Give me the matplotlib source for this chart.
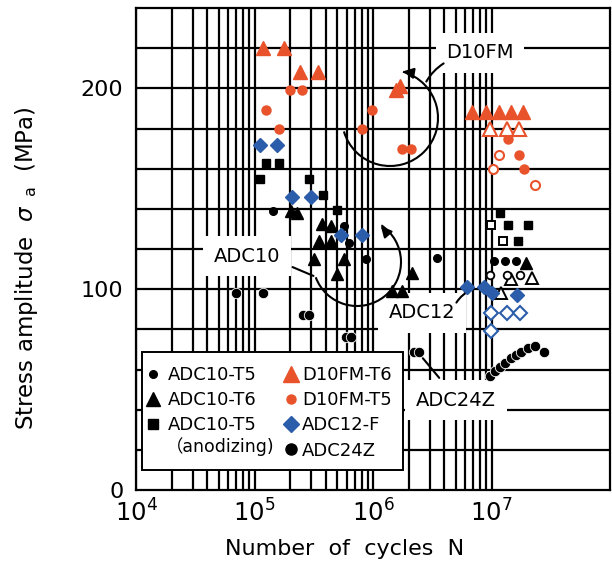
import matplotlib
matplotlib.use('Agg')
import matplotlib.pyplot as plt
from matplotlib.lines import Line2D
from matplotlib.patches import Arc, Rectangle
from matplotlib.ticker import NullLocator

plt.rcParams['font.family'] = ['DejaVu Sans', 'Noto Sans CJK JP']

RED = '#e9532b'
BLUE = '#2b5daa'

# --- data (cycles, stress amplitude MPa) ---
# D10FM-T6
d6_n = [1.17e5, 1.79e5, 2.44e5, 3.45e5, 1.55e6, 1.68e6,
        6.8e6, 8.9e6, 1.15e7, 1.47e7, 1.86e7]
d6_s = [220, 220, 208, 208, 199, 201, 188, 188, 188, 188, 188]
d6_run_n = [9.8e6, 1.34e7, 1.69e7]
d6_run_s = [180, 180, 180]

# D10FM-T5
d5_n = [1.26e5, 1.62e5, 2.0e5, 2.53e5, 8.05e5, 9.9e5, 1.75e6, 2.08e6,
        1.37e7, 1.69e7, 1.89e7]
d5_s = [189, 180, 199, 199, 180, 189, 170, 170, 175, 167, 160]
d5_run_n = [1.16e7, 1.02e7, 2.33e7]
d5_run_s = [167, 160, 152]

# ADC12-F
a12_n = [1.12e5, 1.56e5, 2.09e5, 3.0e5, 5.4e5, 8.1e5, 6.2e6, 8.6e6, 1.0e7, 1.65e7]
a12_s = [172, 172, 146, 146, 127, 127, 101, 101, 98, 97]
a12_run_n = [9.9e6, 1.34e7, 1.75e7, 9.9e6]
a12_run_s = [88, 88, 88, 79]

# ADC10-T5
t5_n = [1.42e5, 5.7e5, 6.3e5, 8.7e5, 3.45e6, 1.04e7, 1.31e7, 1.62e7]
t5_s = [139, 131.5, 123, 115, 115.5, 114, 114, 114]
t5_run_n = [9.8e6, 1.35e7, 1.74e7]
t5_run_s = [107, 107, 107]

# ADC10-T6
t6_n = [2.03e5, 2.3e5, 3.71e5, 4.42e5, 3.47e5, 4.42e5, 3.19e5, 5.7e5,
        5.01e5, 2.14e6, 1.45e6, 1.76e6, 1.97e7]
t6_s = [139, 138, 132.5, 131.5, 124, 124, 115, 115, 107.5, 108, 99, 99, 113]
t6_run_n = [1.47e7, 2.21e7, 1.21e7]
t6_run_s = [105, 105.5, 98]

# ADC10-T5 (anodizing)
an_n = [1.12e5, 1.26e5, 1.62e5, 2.9e5, 3.8e5, 5.0e5, 1.18e7, 1.39e7, 2.02e7, 1.66e7]
an_s = [155, 163, 163, 155, 147, 139.5, 138, 132, 132, 124]
an_run_n = [9.86e6, 1.26e7]
an_run_s = [132, 124]

# ADC24Z
z_n = [7.0e4, 1.18e5, 2.55e5, 2.9e5, 5.9e5, 6.5e5, 2.21e6, 2.44e6,
       9.8e6, 1.08e7, 1.19e7, 1.31e7, 1.45e7, 1.62e7, 1.79e7, 2.05e7, 2.34e7, 2.79e7]
z_s = [98, 98, 87, 87, 76, 76, 68.5, 68.5,
       57, 59.5, 61, 63, 65.5, 67, 68.5, 70.5, 71.5, 68.5]

W, H = 612, 564
AX_L, AX_R, AX_T, AX_B = 136, 610, 8, 490


def px(x, y):
    """pixel position in the picture -> axes fraction"""
    return (x - AX_L) / (AX_R - AX_L), (AX_B - y) / (AX_B - AX_T)


fig = plt.figure(figsize=(W / 100, H / 100), dpi=100)
ax = fig.add_axes([AX_L / W, (H - AX_B) / H, (AX_R - AX_L) / W, (AX_B - AX_T) / H])
ax.set_xscale('log')
ax.set_xlim(1e4, 1e8)
ax.set_ylim(0, 240)

# hand-drawn style grid: minor lines only up to 1e7
for e in range(4, 7):
    for k in range(1, 10):
        ax.axvline(k * 10 ** e, color='k', lw=1.6, zorder=1)
ax.axvline(1e7, color='k', lw=1.6, zorder=1)
for s in range(20, 240, 20):
    ax.axhline(s, color='k', lw=1.6, zorder=1)
for sp in ax.spines.values():
    sp.set_linewidth(1.6)

ax.set_xticks([1e4, 1e5, 1e6, 1e7])
ax.xaxis.set_minor_locator(NullLocator())
ax.set_yticks([0, 100, 200])
ax.tick_params(axis='both', length=0)
ax.tick_params(axis='y', labelsize=16, pad=9)
ax.tick_params(axis='x', labelsize=17.5, pad=7)

fig.text(27 / W, 1 - 268 / H, r'Stress amplitude  $\sigma_{\ \ \rm a}$  (MPa)',
         rotation=90, ha='center', va='center', fontsize=16.5)
fig.text(345 / W, 1 - 549 / H, 'Number  of  cycles  N', ha='center', va='center',
         fontsize=16)

# label boxes that blank out the grid
box = dict(facecolor='white', edgecolor='none', boxstyle='square,pad=0.55')
for txt, (x, y) in [('D10FM', (480, 53)), ('ADC10', (247, 256)),
                    ('ADC12', (422, 313)), ('ADC24Z', (456, 400))]:
    ax.text(*px(x, y), txt, transform=ax.transAxes, ha='center', va='center',
            fontsize=14, bbox=box, zorder=2)

# curved arrows around the groups
arc_kw = dict(transform=ax.transAxes, color='k', lw=1.5, zorder=2.5)
cx, cy = px(390, 118)
ax.add_patch(Arc((cx, cy), 96 / 474, 96 / 482, theta1=-164, theta2=74, **arc_kw))
ax.annotate('', xy=px(400, 71), xytext=px(412, 73), xycoords='axes fraction',
            arrowprops=dict(arrowstyle='-|>', color='k', lw=1.5, mutation_scale=16))
ax.annotate('', xy=px(425, 84), xytext=px(446, 62), xycoords='axes fraction',
            arrowprops=dict(arrowstyle='-', color='k', lw=1.5,
                            connectionstyle='arc3,rad=0.15'))

cx, cy = px(357, 262)
ax.add_patch(Arc((cx, cy), 88 / 474, 88 / 482, theta1=-160, theta2=56, **arc_kw))
ax.annotate('', xy=px(379, 224), xytext=px(386, 232), xycoords='axes fraction',
            arrowprops=dict(arrowstyle='-|>', color='k', lw=1.5, mutation_scale=16))
ax.annotate('', xy=px(316, 277), xytext=px(290, 266), xycoords='axes fraction',
            arrowprops=dict(arrowstyle='-', color='k', lw=1.5))

ax.annotate('', xy=px(474, 289), xytext=px(455, 305), xycoords='axes fraction',
            arrowprops=dict(arrowstyle='-', color='k', lw=1.5,
                            connectionstyle='arc3,rad=-0.2'))
ax.annotate('', xy=px(441, 380), xytext=px(421, 356), xycoords='axes fraction',
            arrowprops=dict(arrowstyle='-', color='k', lw=1.5))

# data points
mk = dict(ls='none', zorder=3)
ax.plot(z_n, z_s, marker='o', ms=7.5, mfc='k', mec='white', mew=0.6, **mk)
ax.plot(an_n, an_s, marker='s', ms=6, color='k', **mk)
ax.plot(an_run_n, an_run_s, marker='s', ms=6, mfc='white', mec='k', mew=1.4, **mk)
ax.plot(t6_n, t6_s, marker='^', ms=9, color='k', **mk)
ax.plot(t6_run_n, t6_run_s, marker='^', ms=9, mfc='white', mec='k', mew=1.4, **mk)
ax.plot(t5_n, t5_s, marker='o', ms=5.5, color='k', **mk)
ax.plot(t5_run_n, t5_run_s, marker='o', ms=5.5, mfc='white', mec='k', mew=1.3, **mk)
ax.plot(a12_n, a12_s, marker='D', ms=7, color=BLUE, **mk)
ax.plot(a12_run_n, a12_run_s, marker='D', ms=7, mfc='white', mec=BLUE, mew=1.5, **mk)
ax.plot(d5_n, d5_s, marker='o', ms=6.5, color=RED, **mk)
ax.plot(d5_run_n, d5_run_s, marker='o', ms=6.5, mfc='white', mec=RED, mew=1.5, **mk)
ax.plot(d6_n, d6_s, marker='^', ms=10, color=RED, **mk)
ax.plot(d6_run_n, d6_run_s, marker='^', ms=10, mfc='white', mec=RED, mew=1.5, **mk)

# legend: framed box with two columns
x0, y1 = px(142, 352)
x1, y0 = px(403, 470)
ax.add_patch(Rectangle((x0, y0), x1 - x0, y1 - y0, transform=ax.transAxes,
                       facecolor='white', edgecolor='k', lw=1.4, zorder=4))
leg_kw = dict(frameon=False, fontsize=13, handlelength=1.0, handletextpad=0.3,
              borderpad=0, borderaxespad=0, labelspacing=0.4, loc='upper left')
h_left = [Line2D([], [], ls='none', marker='o', ms=5.5, color='k'),
          Line2D([], [], ls='none', marker='^', ms=10, color='k'),
          Line2D([], [], ls='none', marker='s', ms=6.5, color='k')]
lab_left = ['ADC10-T5', 'ADC10-T6', 'ADC10-T5']
h_right = [Line2D([], [], ls='none', marker='^', ms=12, color=RED),
           Line2D([], [], ls='none', marker='o', ms=6.5, color=RED),
           Line2D([], [], ls='none', marker='D', ms=8, color=BLUE),
           Line2D([], [], ls='none', marker='o', ms=8, color='k')]
lab_right = ['D10FM-T6', 'D10FM-T5', 'ADC12-F', 'ADC24Z']
leg1 = ax.legend(h_left, lab_left, bbox_to_anchor=px(144, 366), **leg_kw)
leg1.set_zorder(5)
ax.add_artist(leg1)
leg2 = ax.legend(h_right, lab_right, bbox_to_anchor=px(282, 366),
                 **{**leg_kw, 'handletextpad': 0.1})
leg2.set_zorder(5)
ax.text(*px(166, 447), '（anodizing)', transform=ax.transAxes, ha='left',
        va='center', fontsize=12.5, zorder=6)

fig.savefig('out.png', dpi=100)
